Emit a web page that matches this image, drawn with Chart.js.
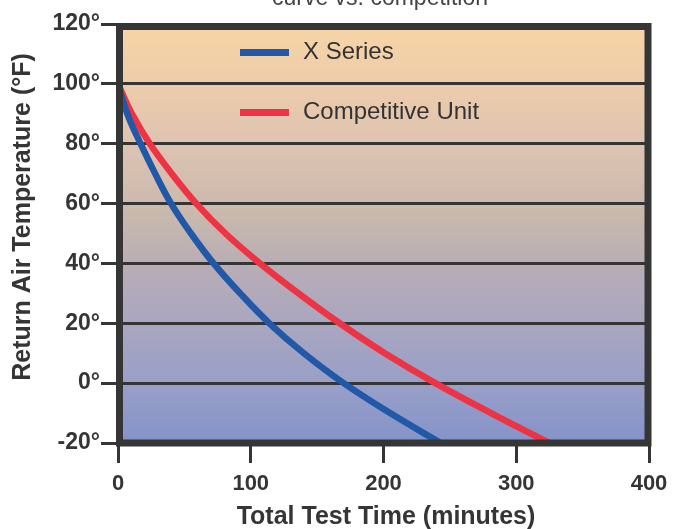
<!DOCTYPE html>
<html>
<head>
<meta charset="utf-8">
<script src="https://cdn.jsdelivr.net/npm/chart.js@4/dist/chart.umd.min.js"></script>
<style>
  html, body { margin: 0; padding: 0; background: #ffffff; }
  #wrap { position: relative; width: 683px; height: 529px; }
  canvas { display: block; }
</style>
</head>
<body>
<div id="wrap"><canvas id="c" width="683" height="529"></canvas></div>
<script>
// ---- data ----
const chartTitle = "curve vs. competition";
const xTitle = "Total Test Time (minutes)";
const yTitle = "Return Air Temperature (°F)";
const seriesNames = ["X Series", "Competitive Unit"];

// X Series: time (min) / temperature (°F)
const xSeriesTime = [0, 7, 17, 28, 40, 55, 72, 92, 114, 140, 170, 205, 243];
const xSeriesTemp = [100, 90, 80, 70, 60, 50, 40, 30, 20, 10, 0, -10, -20];

// Competitive Unit
const compTime = [0, 10.5, 24, 40.5, 59, 81, 107, 136, 167, 201, 239, 281, 325];
const compTemp = [100, 90, 80, 70, 60, 50, 40, 30, 20, 10, 0, -10, -20];

const xTickValues = [0, 100, 200, 300, 400];
const yTickValues = [-20, 0, 20, 40, 60, 80, 100, 120];

const toPoints = (xs, ys) => xs.map((x, i) => ({ x: x, y: ys[i] }));

const FONT = "'Liberation Sans', Arial, Helvetica, sans-serif";
const DARK = "#353535";
const seriesColors = ["#2158a8", "#ee3344"];

const bgPlugin = {
  id: 'bg',
  beforeDraw(chart) {
    const { ctx, chartArea: a } = chart;
    ctx.save();
    ctx.fillStyle = '#ffffff';
    ctx.fillRect(0, 0, chart.width, chart.height);
    const g = ctx.createLinearGradient(0, a.top, 0, a.bottom);
    g.addColorStop(0.00, '#f8d5a6');
    g.addColorStop(0.15, '#ecccab');
    g.addColorStop(0.30, '#dcc2b2');
    g.addColorStop(0.45, '#c9b9ac');
    g.addColorStop(0.58, '#b8adb6');
    g.addColorStop(0.72, '#a9a6c0');
    g.addColorStop(0.86, '#999fc7');
    g.addColorStop(1.00, '#8493c9');
    ctx.fillStyle = g;
    ctx.fillRect(a.left, a.top, a.right - a.left, a.bottom - a.top);
    ctx.restore();
  }
};

const framePlugin = {
  id: 'frame',
  afterDatasetsDraw(chart) {
    const { ctx, chartArea: a } = chart;
    ctx.save();
    ctx.strokeStyle = DARK;
    ctx.lineWidth = 7;
    ctx.strokeRect(a.left + 1.5, a.top + 2.5, a.right - a.left - 2.5, a.bottom - a.top - 2.5);
    ctx.restore();
  },
  afterDraw(chart) {
    const { ctx, chartArea: a } = chart;
    ctx.save();
    // legend inside plot
    const rows = [a.top + 28.5, a.top + 88.5];
    chart.data.datasets.forEach((ds, i) => {
      const y = rows[i];
      ctx.strokeStyle = ds.borderColor;
      ctx.lineWidth = 7;
      ctx.beginPath();
      ctx.moveTo(240, y);
      ctx.lineTo(289, y);
      ctx.stroke();
      ctx.fillStyle = '#333333';
      ctx.font = "24px " + FONT;
      ctx.textBaseline = 'middle';
      ctx.textAlign = 'left';
      ctx.fillText(ds.label, 303, y);
    });
    // title (cropped at top)
    ctx.fillStyle = '#444444';
    ctx.font = "23px " + FONT;
    ctx.textAlign = 'center';
    ctx.textBaseline = 'alphabetic';
    ctx.fillText(chartTitle, 380, 4.5);
    // axis titles
    ctx.fillStyle = DARK;
    ctx.font = "bold 25px " + FONT;
    ctx.textBaseline = 'middle';
    ctx.fillText(xTitle, 386, 517);
    ctx.translate(23, 217);
    ctx.rotate(-Math.PI / 2);
    ctx.font = "bold 25px " + FONT;
    ctx.fillText(yTitle, 0, 0);
    ctx.restore();
  }
};

new Chart(document.getElementById('c'), {
  type: 'line',
  data: {
    datasets: [
      {
        label: seriesNames[0],
        data: toPoints(xSeriesTime, xSeriesTemp),
        borderColor: seriesColors[0],
        borderWidth: 6.5,
        pointRadius: 0,
        tension: 0.4,
        fill: false
      },
      {
        label: seriesNames[1],
        data: toPoints(compTime, compTemp),
        borderColor: seriesColors[1],
        borderWidth: 6.5,
        pointRadius: 0,
        tension: 0.4,
        fill: false
      }
    ]
  },
  options: {
    responsive: false,
    animation: false,
    devicePixelRatio: 1,
    layout: { padding: { left: 0, right: 34, top: 24, bottom: 0 } },
    plugins: { legend: { display: false }, title: { display: false }, tooltip: { enabled: false } },
    scales: {
      x: {
        type: 'linear',
        min: 0, max: 400,
        afterBuildTicks: s => { s.ticks = xTickValues.map(v => ({ value: v })); },
        afterFit: s => { s.height = 86; },
        border: { display: false },
        grid: { drawOnChartArea: false, drawTicks: true, tickLength: 20, tickColor: DARK, tickWidth: 3, color: DARK, lineWidth: 3 },
        ticks: { color: DARK, padding: 8, font: { family: FONT, size: 22, weight: 'bold' }, maxRotation: 0 }
      },
      y: {
        type: 'linear',
        min: -20, max: 120,
        afterBuildTicks: s => { s.ticks = yTickValues.map(v => ({ value: v })); },
        afterFit: s => { s.width = 118; },
        border: { display: false },
        grid: { drawOnChartArea: true, drawTicks: true, tickLength: 17, color: DARK, lineWidth: 3, tickColor: DARK, tickWidth: 3 },
        ticks: { color: DARK, padding: 1, font: { family: FONT, size: 23, weight: 'bold' }, callback: v => v + '°' }
      }
    }
  },
  plugins: [bgPlugin, framePlugin]
});
</script>
</body>
</html>
